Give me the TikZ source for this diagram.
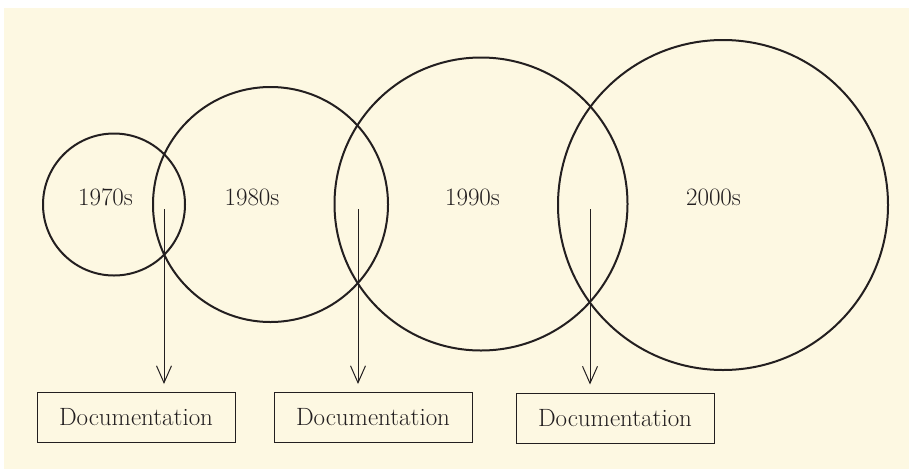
\documentclass[tikz,border=0pt]{standalone}
\usetikzlibrary{arrows.meta}
\definecolor{bgcream}{RGB}{253,248,226}
\definecolor{ink}{RGB}{35,31,32}
\begin{document}
\begin{tikzpicture}[x=1pt,y=-1pt,
  era/.style={circle,draw=ink,line width=2pt,inner sep=0pt},
  eralabel/.style={anchor=base,text=ink,inner sep=0pt,font=\fontsize{25}{30}\selectfont},
  docbox/.style={draw=ink,line width=1pt,minimum width=198pt,minimum height=50pt,inner sep=0pt,text=ink,font=\fontsize{25}{30}\selectfont},
  arr/.style={draw=ink,line width=1pt,-{Straight Barb[length=17pt,width=15pt,line width=1pt]},shorten >=8pt}]
\useasboundingbox (0,0) rectangle (909,469);
\fill[white] (0,0) rectangle (909,469);
\fill[bgcream] (4,8) rectangle (909,469);
% circles
\node[era,minimum size=142pt] (c1) at (114,204.5) {};
\node[era,minimum size=235pt] (c2) at (270.5,204.5) {};
\node[era,minimum size=293pt] (c3) at (481,204) {};
\node[era,minimum size=330pt] (c4) at (723,205) {};
% labels
\node[eralabel] (l1) at (105.5,205) {1970s};
\node[eralabel] (l2) at (252,205) {1980s};
\node[eralabel] (l3) at (472.5,205) {1990s};
\node[eralabel] (l4) at (713.5,205) {2000s};
% boxes
\node[docbox] (b1) at (136,417.5) {Documentation};
\node[docbox] (b2) at (373,417.5) {Documentation};
\node[docbox] (b3) at (615,418) {Documentation};
% arrow starts
\coordinate (a1) at (164,209);
\coordinate (a2) at (358,209);
\coordinate (a3) at (590,209);
\draw[arr] (a1) -- (a1 |- b1.north);
\draw[arr] (a2) -- (a2 |- b2.north);
\draw[arr] (a3) -- (a3 |- b3.north);
\end{tikzpicture}
\end{document}
